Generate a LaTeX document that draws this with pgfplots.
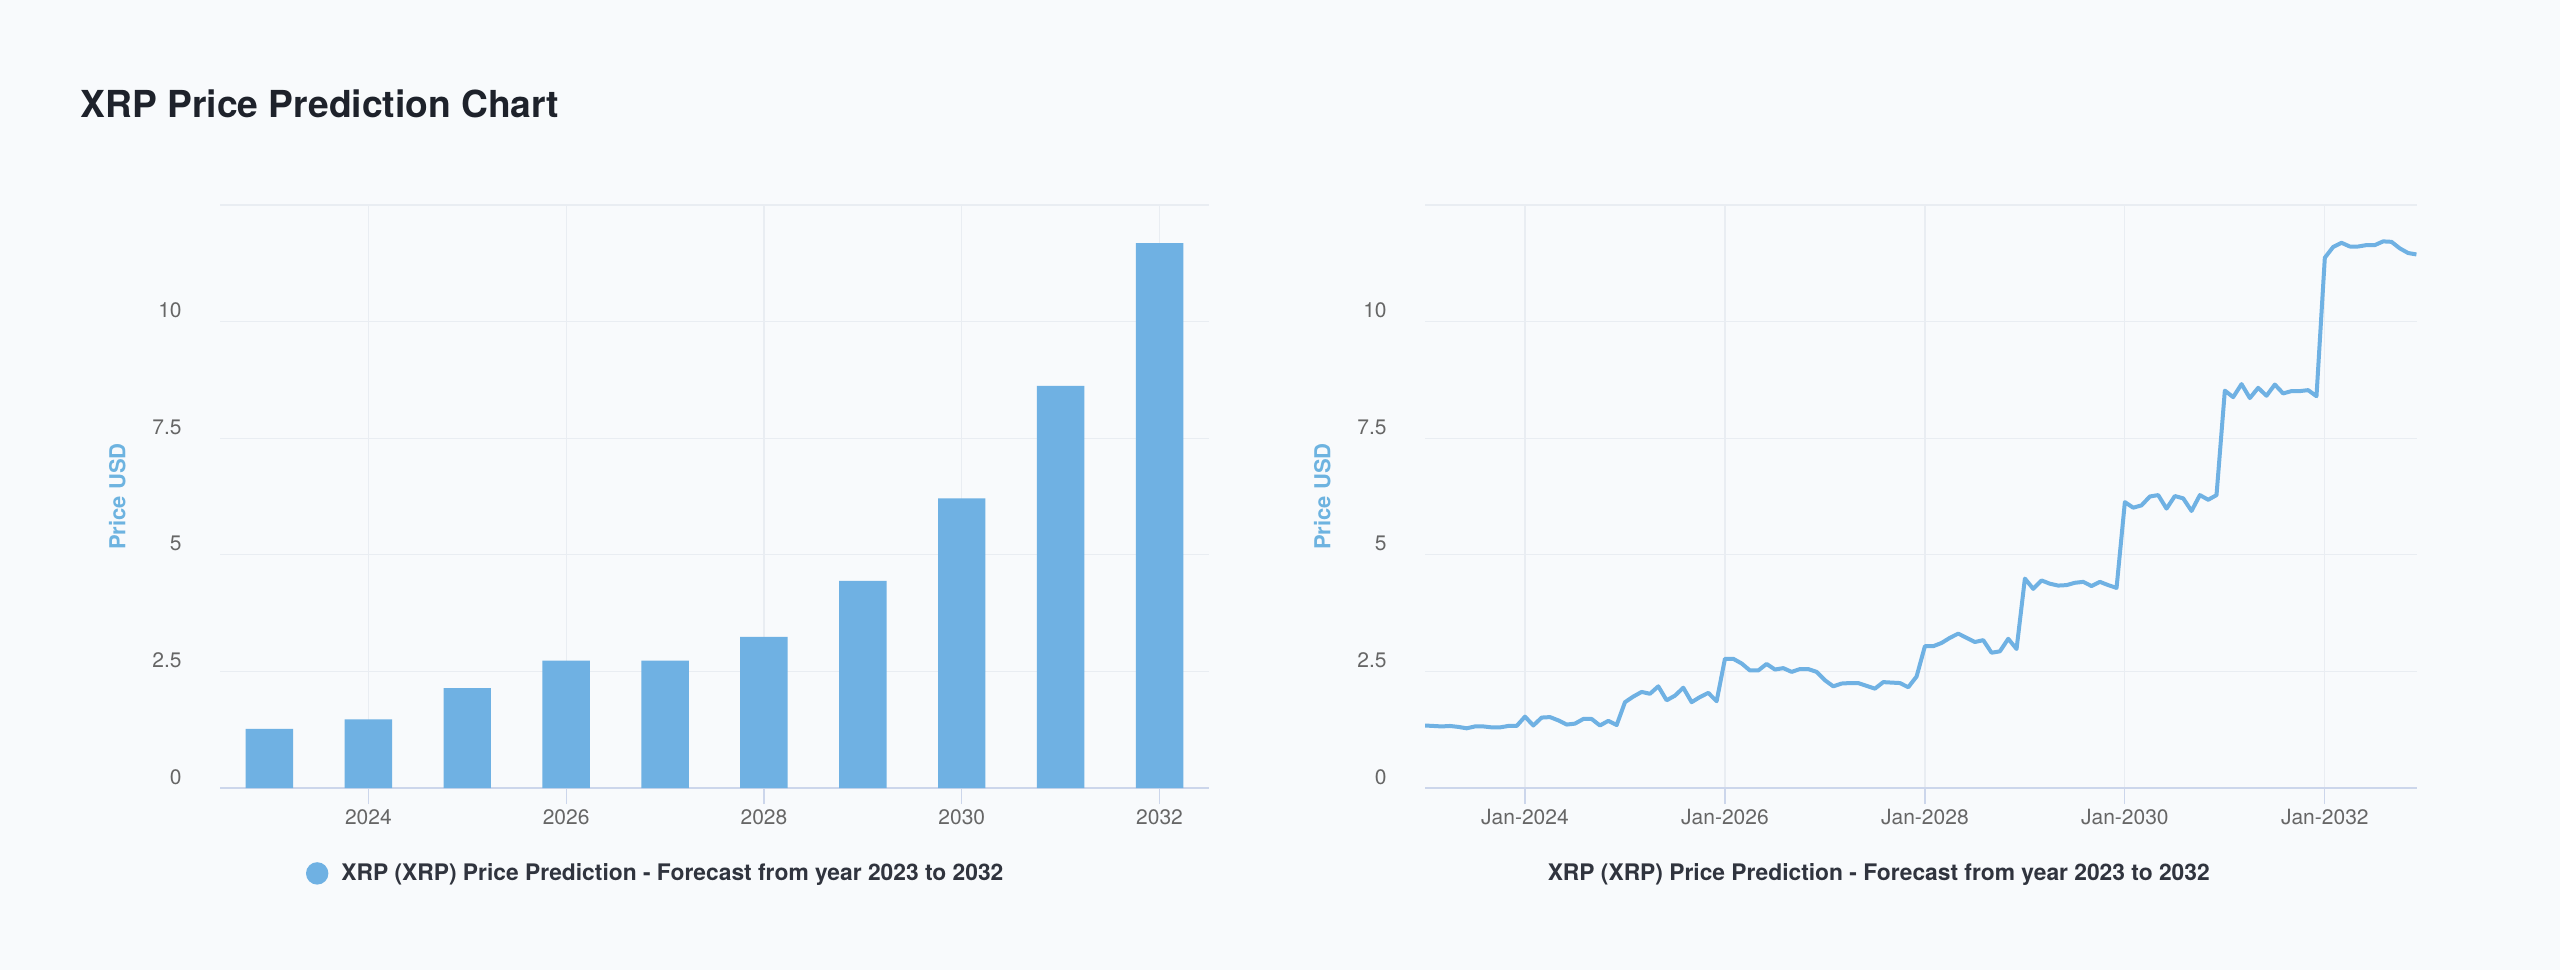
\documentclass[border=0pt]{standalone}
\usepackage{fontspec}
\setmainfont{TeX Gyre Heros}
\usepackage{pgfplots}
\usepackage{pgfplotstable}
\pgfplotsset{compat=1.18}

\definecolor{bgc}{HTML}{F8FAFC}
\definecolor{gridc}{HTML}{E9EDF2}
\definecolor{axisc}{HTML}{CCD6EB}
\definecolor{barc}{HTML}{6FB1E3}
\definecolor{tickc}{HTML}{666666}
\definecolor{titlec}{HTML}{1E222B}
\definecolor{legc}{HTML}{30343E}
\definecolor{ytitc}{HTML}{6DB3E0}

\pgfplotstableread{
m v
0 1.34
1 1.33
2 1.32
3 1.33
4 1.31
5 1.28
6 1.32
7 1.32
8 1.30
9 1.30
10 1.33
11 1.33
12 1.53
13 1.34
14 1.51
15 1.52
16 1.45
17 1.36
18 1.38
19 1.48
20 1.48
21 1.34
22 1.44
23 1.35
24 1.84
25 1.96
26 2.06
27 2.02
28 2.18
29 1.88
30 1.98
31 2.15
32 1.84
33 1.95
34 2.04
35 1.86
36 2.77
37 2.77
38 2.67
39 2.52
40 2.52
41 2.66
42 2.54
43 2.57
44 2.49
45 2.55
46 2.55
47 2.49
48 2.31
49 2.18
50 2.24
51 2.25
52 2.25
53 2.19
54 2.13
55 2.27
56 2.26
57 2.25
58 2.16
59 2.39
60 3.04
61 3.04
62 3.11
63 3.22
64 3.31
65 3.22
66 3.13
67 3.17
68 2.90
69 2.93
70 3.20
71 2.98
72 4.49
73 4.27
74 4.45
75 4.38
76 4.34
77 4.35
78 4.40
79 4.42
80 4.33
81 4.42
82 4.35
83 4.29
84 6.13
85 6.01
86 6.06
87 6.25
88 6.28
89 5.99
90 6.26
91 6.21
92 5.94
93 6.28
94 6.18
95 6.28
96 8.52
97 8.38
98 8.66
99 8.36
100 8.58
101 8.41
102 8.65
103 8.46
104 8.51
105 8.51
106 8.53
107 8.40
108 11.37
109 11.60
110 11.69
111 11.61
112 11.61
113 11.64
114 11.64
115 11.72
116 11.71
117 11.57
118 11.47
119 11.44
}\monthly

\pgfplotsset{
  xrp/.style={
    scale only axis,
    height=291.5pt,
    anchor=south west,
    ymin=0, ymax=12.5,
    ytick={0,2.5,5,7.5,10,12.5},
    yticklabels={0,2.5,5,7.5,10,{}},
    axis lines=left,
    x axis line style={draw=axisc, line width=1pt, -},
    y axis line style={draw=none},
    grid=major,
    major grid style={draw=gridc, line width=0.6pt},
    tick align=outside,
    major tick length=8pt,
    xtick style={draw=axisc, line width=0.6pt},
    ytick style={draw=none},
    ticklabel style={font=\fontsize{10.5}{12}\selectfont, text=tickc},
    yticklabel style={anchor=east, inner sep=0pt, xshift=-11pt, yshift=5.5pt},
    xticklabel style={anchor=north, inner sep=0pt, yshift=-2.5pt},
    ylabel={Price USD},
    ylabel style={at={([xshift=-51.3pt]rel axis cs:0,0.5)}, anchor=center,
      font=\bfseries\fontsize{11}{13}\selectfont, text=ytitc},
  }
}

\begin{document}
\begin{tikzpicture}
\fill[bgc] (0pt,0pt) rectangle (1280pt,485pt);
\node[anchor=base west, inner sep=0pt, text=titlec,
  font=\bfseries\fontsize{18.6}{21}\selectfont] at (40.2pt,426.3pt) {XRP Price Prediction Chart};

\begin{axis}[xrp,
  at={(110pt,91pt)},
  width=494.5pt,
  xmin=2022.5, xmax=2032.5,
  xtick={2024,2026,2028,2030,2032},
  xticklabels={2024,2026,2028,2030,2032},
  legend style={at={([xshift=43pt,yshift=-42.7pt]rel axis cs:0,0)}, anchor=west,
    draw=none, fill=none, inner sep=0pt, outer sep=0pt,
    font=\bfseries\fontsize{11.4}{13}\selectfont, text=legc,
    nodes={inner sep=0pt}},
  legend image code/.code={\fill[barc] (5.6pt,0pt) circle (5.6pt);},
  /tikz/every odd column/.append style={column sep=6.5pt},
]
\addplot[ybar, bar width=0.48, fill=barc, draw=none] coordinates {
(2023,1.27) (2024,1.47) (2025,2.14) (2026,2.73) (2027,2.73)
(2028,3.24) (2029,4.44) (2030,6.21) (2031,8.62) (2032,11.68)};
\addlegendentry{XRP (XRP) Price Prediction - Forecast from year 2023 to 2032}
\end{axis}

\begin{axis}[xrp,
  at={(712.5pt,91pt)},
  width=495.75pt,
  xmin=2023, xmax=2032.917,
  xtick={2024,2026,2028,2030,2032},
  xticklabels={Jan-2024,Jan-2026,Jan-2028,Jan-2030,Jan-2032},
  xlabel={XRP (XRP) Price Prediction - Forecast from year 2023 to 2032},
  xlabel style={at={([xshift=-21pt,yshift=-46pt]rel axis cs:0.5,0)}, anchor=base,
    font=\bfseries\fontsize{11.4}{13}\selectfont, text=legc},
]
\addplot[color=barc, line width=2pt, line join=round, mark=none]
  table[x expr=2023+\thisrow{m}/12, y=v] {\monthly};
\end{axis}
\end{tikzpicture}
\end{document}
